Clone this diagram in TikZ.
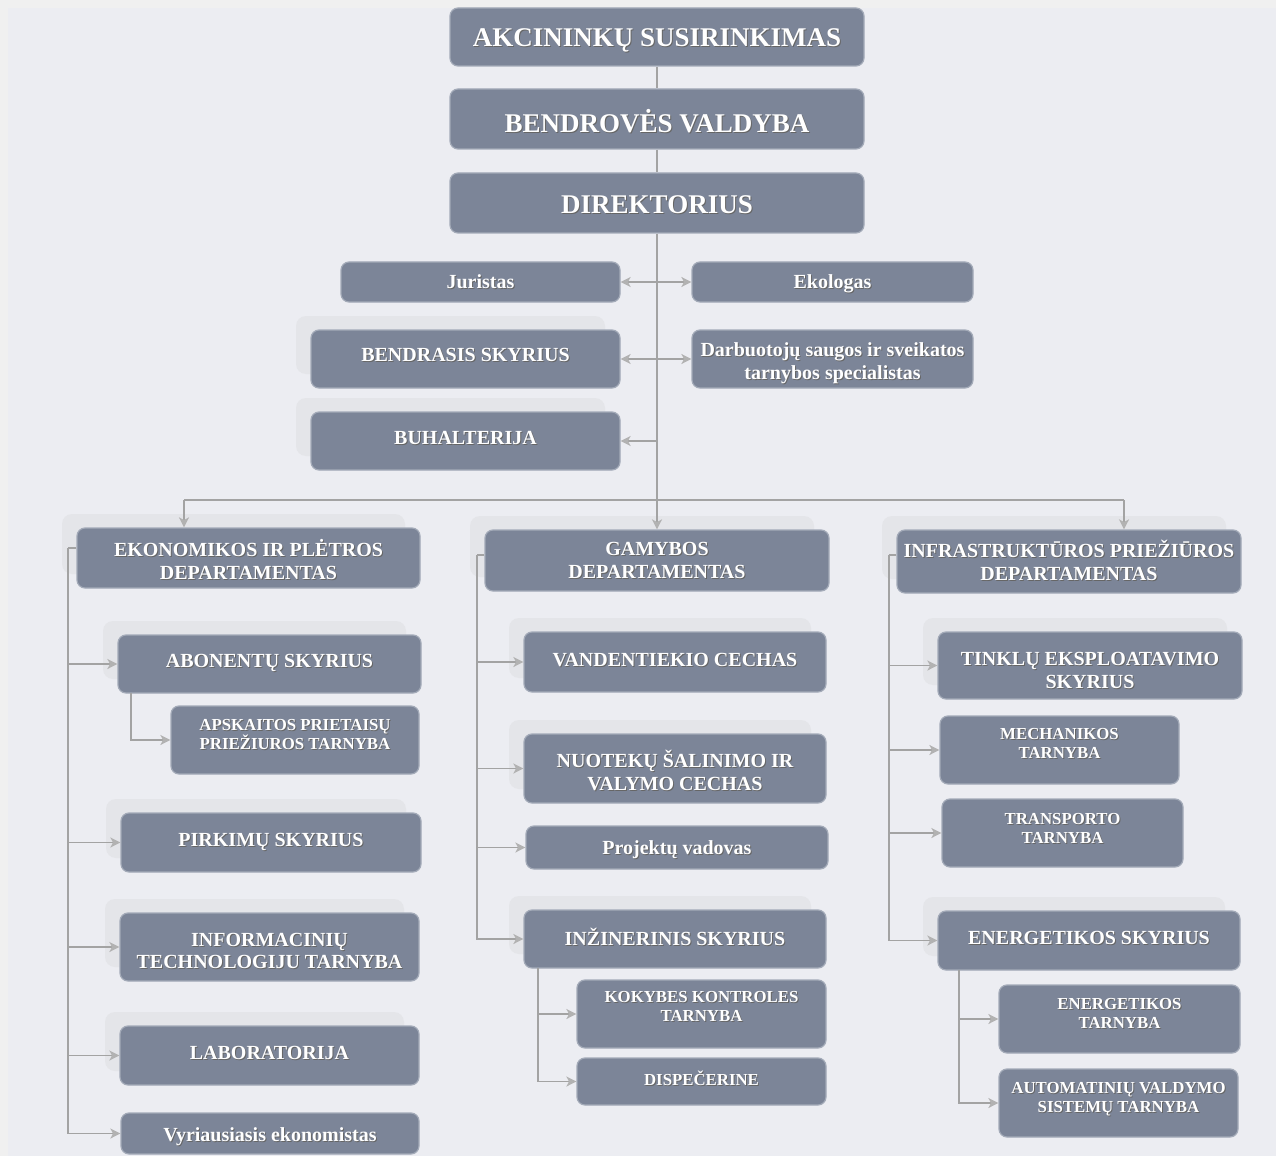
\documentclass[tikz,border=0pt]{standalone}
\usepackage{fontspec}
\setmainfont{Liberation Serif}
\usetikzlibrary{arrows.meta}
\definecolor{bg}{HTML}{ECEDF2}
\definecolor{framec}{HTML}{F0F0F0}
\definecolor{boxc}{HTML}{7C8598}
\definecolor{boxb}{HTML}{A3AAB8}
\definecolor{lnc}{HTML}{A3A3A3}
\definecolor{ahc}{HTML}{B2B2B2}
\definecolor{bdc}{HTML}{E4E5E9}
\newcommand\fbig{\fontsize{13.5}{15}\selectfont}
\newcommand\fmid{\fontsize{10}{11.3}\selectfont}
\newcommand\fsml{\fontsize{8.4}{9.5}\selectfont}
\tikzset{
  box/.style={draw=boxb, line width=0.6pt, fill=boxc, rounded corners=4pt, inner sep=0pt},
  txt/.style={text=white, align=center, inner sep=0pt, text depth=0pt},
  txs/.style={text=black!60, align=center, inner sep=0pt, text depth=0pt},
  lnk/.style={draw=lnc, line width=0.8pt},
  arr/.style={lnk, -{Stealth[length=5pt,width=5pt,inset=1.3pt,color=ahc]}},
  arr2/.style={lnk, {Stealth[length=5pt,width=5pt,inset=1.3pt,color=ahc]}-{Stealth[length=5pt,width=5pt,inset=1.3pt,color=ahc]}},
  bkd/.style={fill=bdc, rounded corners=5pt}
}
% name x1 y1 x2 y2 font text dy
\newcommand\bx[8]{%
  \node[box, minimum width={(#4-#2)*0.5pt}, minimum height={(#5-#3)*0.5pt}] (#1) at ({(#2+#4)/2},{(#3+#5)/2}) {};
  \node[txs, font={#6\bfseries}] (#1s) at ({(#2+#4)/2+1},{(#3+#5)/2+#8+1}) {#7};
  \node[txt, font={#6\bfseries}] (#1t) at ({(#2+#4)/2},{(#3+#5)/2+#8}) {#7};
}
\newcommand\bk[4]{\fill[bkd] ({#1-15},{#2-14}) rectangle ({#3-15},{#4-14});}
\begin{document}
\begin{tikzpicture}[x=0.5pt,y=-0.5pt]
\useasboundingbox (0,0) rectangle (1276,1156);
\fill[framec] (0,0) rectangle (1276,1156);
\fill[bg] (8,8) rectangle (1276,1156);
% backdrops
\bk{311}{330}{620}{388}
\bk{311}{412}{620}{470}
\bk{77}{528}{420}{588}
\bk{485}{530}{829}{591}
\bk{897}{530}{1241}{593}
\bk{118}{635}{421}{693}
\bk{121}{813}{421}{872}
\bk{120}{913}{419}{981}
\bk{120}{1026}{419}{1085}
\bk{524}{632}{826}{692}
\bk{524}{734}{826}{803}
\bk{524}{910}{826}{968}
\bk{938}{632}{1242}{699}
\bk{938}{911}{1240}{970}
% boxes
\bx{akc}{450}{8}{864}{66}{\fbig}{AKCININKŲ SUSIRINKIMAS}{1}
\bx{bend}{450}{89}{864}{149}{\fbig}{BENDROVĖS VALDYBA}{2}
\bx{dir}{450}{173}{864}{233}{\fbig}{DIREKTORIUS}{2}
\bx{jur}{341}{262}{620}{302}{\fmid}{Juristas}{0}
\bx{ekol}{692}{262}{973}{302}{\fmid}{Ekologas}{0}
\bx{bendr}{311}{330}{620}{388}{\fmid}{BENDRASIS SKYRIUS}{-4}
\bx{darb}{692}{330}{973}{388}{\fmid}{Darbuotojų saugos ir sveikatos\\tarnybos specialistas}{2}
\bx{buh}{311}{412}{620}{470}{\fmid}{BUHALTERIJA}{-3}
\bx{eko}{77}{528}{420}{588}{\fmid}{EKONOMIKOS IR PLĖTROS\\DEPARTAMENTAS}{1.5}
\bx{gam}{485}{530}{829}{591}{\fmid}{GAMYBOS\\DEPARTAMENTAS}{0}
\bx{inf}{897}{530}{1241}{593}{\fmid}{INFRASTRUKTŪROS PRIEŽIŪROS\\DEPARTAMENTAS}{-1}
\bx{abo}{118}{635}{421}{693}{\fmid}{ABONENTŲ SKYRIUS}{-3}
\bx{aps}{171}{706}{419}{774}{\fsml}{APSKAITOS PRIETAISŲ\\PRIEŽIUROS TARNYBA}{-6}
\bx{pirk}{121}{813}{421}{872}{\fmid}{PIRKIMŲ SKYRIUS}{-2.5}
\bx{infm}{120}{913}{419}{981}{\fmid}{INFORMACINIŲ\\TECHNOLOGIJU TARNYBA}{4}
\bx{lab}{120}{1026}{419}{1085}{\fmid}{LABORATORIJA}{-3}
\bx{vyr}{121}{1113}{419}{1154}{\fmid}{Vyriausiasis ekonomistas}{1}
\bx{van}{524}{632}{826}{692}{\fmid}{VANDENTIEKIO CECHAS}{-2}
\bx{nuo}{524}{734}{826}{803}{\fmid}{NUOTEKŲ ŠALINIMO IR\\VALYMO CECHAS}{2}
\bx{pro}{526}{826}{828}{869}{\fmid}{Projektų vadovas}{0}
\bx{inz}{524}{910}{826}{968}{\fmid}{INŽINERINIS SKYRIUS}{-2}
\bx{kok}{577}{980}{826}{1048}{\fsml}{KOKYBES KONTROLES\\TARNYBA}{-7.5}
\bx{dis}{577}{1058}{826}{1105}{\fsml}{DISPEČERINE}{-3.5}
\bx{tin}{938}{632}{1242}{699}{\fmid}{TINKLŲ EKSPLOATAVIMO\\SKYRIUS}{5}
\bx{mec}{940}{716}{1179}{784}{\fsml}{MECHANIKOS\\TARNYBA}{-6.5}
\bx{tra}{942}{799}{1183}{867}{\fsml}{TRANSPORTO\\TARNYBA}{-4.5}
\bx{ene}{938}{911}{1240}{970}{\fmid}{ENERGETIKOS SKYRIUS}{-2.5}
\bx{ent}{999}{985}{1240}{1053}{\fsml}{ENERGETIKOS\\TARNYBA}{-5.5}
\bx{aut}{999}{1069}{1238}{1137}{\fsml}{AUTOMATINIŲ VALDYMO\\SISTEMŲ TARNYBA}{-5.5}
% connectors
\draw[lnk] (akc) -- (bend);
\draw[lnk] (bend) -- (dir);
\draw[arr] (dir) -- (gam);
\coordinate (busL) at (184,500);
\coordinate (busR) at (1124,500);
\draw[lnk] (busL) -- (busR);
\draw[arr] (busL) -- (busL |- eko.north);
\draw[arr] (busR) -- (busR |- inf.north);
\draw[arr2] (jur) -- (ekol);
\draw[arr2] (bendr) -- (darb);
\draw[arr] (dir.south |- buh.east) -- (buh.east);
% left column
\coordinate (lsp) at (68,548);
\draw[lnk] (eko.west |- lsp) -- (lsp);
\draw[arr] (lsp) |- (vyr.west);
\draw[arr] (lsp |- abo.west) -- (abo.west);
\draw[arr] (lsp |- pirk.west) -- (pirk.west);
\draw[arr] (lsp |- infm.west) -- (infm.west);
\draw[arr] (lsp |- lab.west) -- (lab.west);
\coordinate (absp) at (131,693);
\draw[arr] (absp) |- (aps.west);
% middle column
\coordinate (msp) at (477,555);
\draw[lnk] (gam.west |- msp) -- (msp);
\draw[arr] (msp) |- (inz.west);
\draw[arr] (msp |- van.west) -- (van.west);
\draw[arr] (msp |- nuo.west) -- (nuo.west);
\draw[arr] (msp |- pro.west) -- (pro.west);
\coordinate (inzsp) at (538,968);
\draw[arr] (inzsp) |- (kok.west);
\draw[arr] (inzsp) |- (dis.west);
% right column
\coordinate (rsp) at (889,555);
\draw[lnk] (inf.west |- rsp) -- (rsp);
\draw[arr] (rsp) |- (ene.west);
\draw[arr] (rsp |- tin.west) -- (tin.west);
\draw[arr] (rsp |- mec.west) -- (mec.west);
\draw[arr] (rsp |- tra.west) -- (tra.west);
\coordinate (enesp) at (959,970);
\draw[arr] (enesp) |- (ent.west);
\draw[arr] (enesp) |- (aut.west);
\end{tikzpicture}
\end{document}
